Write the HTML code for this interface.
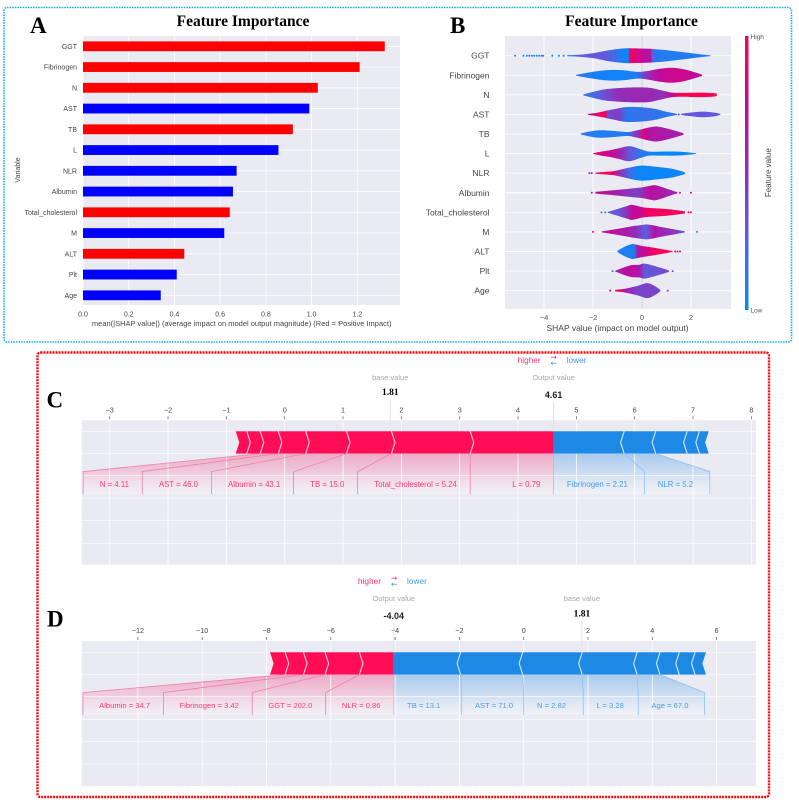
<!DOCTYPE html>
<html lang="en">
<head>
<meta charset="utf-8">
<title>Feature importance and SHAP force plots</title>
<style>
html,body{margin:0;padding:0;background:#fff;}
svg{display:block;filter:blur(0.3px);}
text{font-family:"Liberation Sans",sans-serif;}
.serif{font-family:"Liberation Serif",serif;font-weight:bold;fill:#000;}
</style>
</head>
<body>
<svg id="chart" xmlns="http://www.w3.org/2000/svg" width="799" height="804" viewBox="0 0 799 804">
  <rect x="0" y="0" width="799" height="804" fill="#fff"/>
  <rect x="4" y="7.5" width="787.5" height="334.5" rx="3" fill="none" stroke="#1cb0e6" stroke-width="1.6" stroke-dasharray="1.6 1"/>
  <rect x="37.5" y="352.5" width="731.5" height="444.5" rx="3" fill="none" stroke="#f00a0a" stroke-width="2.4" stroke-dasharray="2 1"/>
  <text class="serif" x="30" y="33" font-size="23">A</text>
  <text class="serif" x="450" y="33" font-size="23">B</text>
  <text class="serif" x="46.500" y="407.500" font-size="23">C</text>
  <text class="serif" x="47" y="626.500" font-size="23">D</text>
  <text class="serif" x="243" y="26" font-size="15.500" text-anchor="middle">Feature Importance</text>
  <text class="serif" x="631.500" y="26" font-size="15.500" text-anchor="middle">Feature Importance</text>
  <g id="panelA"></g>
  <g id="panelB"></g>
  <g id="panelC"></g>
  <g id="panelD"></g>
</svg>
<script>
/* ---------- Panel A data ---------- */
const features = ['GGT','Fibrinogen','N','AST','TB','L','NLR','Albumin','Total_cholesterol','M','ALT','Plt','Age'];
const meanShap = [1.32,1.21,1.027,0.99,0.918,0.855,0.672,0.656,0.642,0.618,0.443,0.41,0.34];
const impactSign = [1,1,1,-1,1,-1,-1,-1,1,-1,1,-1,-1];
const barTicks = [0,0.2,0.4,0.6,0.8,1.0,1.2];

/* ---------- Panel B data: shap position, density, feature value ---------- */
const shapGGT = [-3.05,-2.5,-2,-1.5,-1.2,-0.75,-0.55,-0.5,-0.3,0.1,0.35,0.42,0.6,1,1.5,2,2.5,2.8];
const densGGT = [0.07,0.15,0.33,0.65,0.8,0.97,1,1,0.98,0.95,0.92,0.9,0.85,0.75,0.55,0.35,0.15,0.05];
const featGGT = [0.12,0.28,0.3,0.3,0.2,0.05,0.05,0.97,0.88,0.72,0.7,0.25,0.1,0.1,0.1,0.1,0.1,0.1];
const dotsGGT = [-5.18,-4.84,-4.7,-4.6,-4.5,-4.4,-4.3,-4.2,-4.1,-4.03,-3.66,-3.39,-3.2];
const dotFeatGGT = [0.03,0.03,0.03,0.03,0.03,0.03,0.03,0.03,0.03,0.03,0.03,0.03,0.03];

const shapFib = [-2.7,-2.2,-1.7,-1.2,-0.7,-0.2,0.2,0.7,1.2,1.7,2.2,2.45];
const densFib = [0.05,0.35,0.6,0.72,0.65,0.45,0.55,0.85,1,0.8,0.35,0.08];
const featFib = [0.15,0.08,0.05,0.05,0.05,0.1,0.5,0.75,0.8,0.78,0.75,0.75];
const dotsFib = [];
const dotFeatFib = [];

const shapN = [-2.4,-2,-1.5,-1,-0.3,0.3,0.8,1.2,1.6,2,2.5,3,3.05];
const densN = [0.05,0.4,0.75,0.9,1,0.95,0.6,0.32,0.26,0.28,0.3,0.2,0.03];
const featN = [0.15,0.2,0.35,0.5,0.55,0.55,0.5,0.75,1,1,1,1,1];
const dotsN = [];
const dotFeatN = [];

const shapAST = [-2.2,-1.9,-1.6,-1.5,-1.4,-1,-0.6,0,0.5,1,1.4,1.43,1.6,1.62,2,2.5,3,3.2];
const densAST = [0.08,0.2,0.38,0.45,0.55,0.8,1,0.95,0.75,0.35,0.08,0,0,0.08,0.25,0.38,0.22,0.05];
const featAST = [0.65,0.85,1,1,0.35,0.45,0.12,0.15,0.15,0.12,0.12,0.12,0.3,0.3,0.3,0.3,0.3,0.3];
const dotsAST = [1.5];
const dotFeatAST = [0.3];

const shapTB = [-2.5,-2.1,-1.7,-1.2,-0.6,-0.3,-0.05,0,0.05,0.3,0.6,1,1.5,1.7];
const densTB = [0.07,0.35,0.5,0.42,0.27,0.42,0.6,0.62,0.68,0.88,1,0.75,0.3,0.08];
const featTB = [0.15,0.1,0.07,0.1,0.1,0.45,0.6,1,0.8,0.7,0.65,0.65,0.6,0.6];
const dotsTB = [];
const dotFeatTB = [];

const shapL = [-2,-1.7,-1.3,-0.9,-0.5,0,0.3,0.8,1.5,2.2];
const densL = [0.04,0.25,0.45,0.75,1,0.52,0.27,0.27,0.26,0.05];
const featL = [1,0.85,0.78,0.6,0.3,0.12,0.05,0.03,0.03,0.03];
const dotsL = [];
const dotFeatL = [];

const shapNLR = [-1.9,-1.5,-1.2,-0.9,-0.5,-0.2,0.1,0.7,1.2,1.75];
const densNLR = [0.08,0.18,0.25,0.45,0.75,0.95,1,0.8,0.6,0.12];
const featNLR = [0.8,1,0.9,0.5,0.2,0.05,0.03,0.03,0.03,0.03];
const dotsNLR = [-2.15,-2.05];
const dotFeatNLR = [0.55,0.55];

const shapAlb = [-1.9,-1,-0.3,0,0.3,0.55,1,1.4];
const densAlb = [0.12,0.38,0.62,0.72,0.9,1,0.55,0.1];
const featAlb = [0.75,0.62,0.42,0.5,0.72,0.68,0.6,0.6];
const dotsAlb = [-2.05,1.4,1.55,2.0];
const dotFeatAlb = [0.6,0.65,0.8,0.9];

const shapTC = [-1.4,-1,-0.6,-0.4,0,0.2,0.5,1,1.75];
const densTC = [0.05,0.45,0.85,1,0.7,0.62,0.55,0.45,0.15];
const featTC = [0.3,0.3,0.5,0.75,0.8,0.95,0.95,0.95,0.95];
const dotsTC = [-1.65,-1.5,1.9,2.0];
const dotFeatTC = [0.05,0.1,1,1];

const shapM = [-1.65,-1,-0.3,0.1,0.2,0.5,0.7,1.2,1.75];
const densM = [0.05,0.4,0.8,0.98,1,0.85,0.7,0.4,0.08];
const featM = [0.72,0.7,0.55,0.3,0.3,0.68,0.6,0.5,0.3];
const dotsM = [-2,2.25];
const dotFeatM = [0.95,0.05];

const shapALT = [-1,-0.7,-0.4,-0.3,-0.2,0,0.5,1,1.25];
const densALT = [0.1,0.65,1,0.95,0.9,0.75,0.5,0.2,0.05];
const featALT = [0.1,0.08,0.08,0.1,0.65,0.72,0.95,1,1];
const dotsALT = [1.35,1.45,1.55];
const dotFeatALT = [0.95,0.95,0.9];

const shapPlt = [-1.1,-0.5,-0.1,0.1,0.5,1.1];
const densPlt = [0.05,0.75,0.85,1,0.7,0.1];
const featPlt = [0.6,0.75,0.65,0.3,0.32,0.4];
const dotsPlt = [-1.2,1.25];
const dotFeatPlt = [0.1,0.4];

const shapAge = [-1.1,-0.9,-0.7,-0.2,0.2,0.5,0.75];
const densAge = [0.1,0.17,0.25,0.62,1,0.65,0.1];
const featAge = [1,0.9,0.65,0.4,0.4,0.4,0.4];
const dotsAge = [-1.3,1.05];
const dotFeatAge = [1,0.4];

const violinTicks = [-4,-2,0,2];

/* ---------- Panel C data ---------- */
const cOutput = 4.61;
const cBase = 1.81;
const cPosLabels = ['L = 0.79','Total_cholesterol = 5.24','TB = 15.0','Albumin = 43.1','AST = 46.0','N = 4.11'];
const cPosEffects = [1.43,1.35,0.77,0.70,0.47,0.31,0.23,0.19];
const cNegLabels = ['Fibrinogen = 2.21','NLR = 5.2'];
const cNegEffects = [1.21,0.54,0.54,0.21,0.16];
const cTicks = [-3,-2,-1,0,1,2,3,4,5,6,7,8];

/* ---------- Panel D data ---------- */
const dOutput = -4.04;
const dBase = 1.81;
const dPosLabels = ['NLR = 0.86','GGT = 202.0','Fibrinogen = 3.42','Albumin = 34.7'];
const dPosEffects = [1.07,1.07,0.67,0.57,0.47];
const dNegLabels = ['TB = 13.1','AST = 71.0','N = 2.82','L = 3.28','Age = 67.0'];
const dNegEffects = [2.08,1.93,1.85,1.71,0.71,0.60,0.49,0.34];
const dTicks = [-12,-10,-8,-6,-4,-2,0,2,4,6];

const NS = 'http://www.w3.org/2000/svg';
function mk(parent, tag, attrs, txt){
  const el = document.createElementNS(NS, tag);
  for (const k in attrs) el.setAttribute(k, attrs[k]);
  if (txt !== undefined) el.textContent = txt;
  parent.appendChild(el);
  return el;
}
function fmtTick(v){ return String(v).replace('-', '\u2212'); }

/* ---------- Panel A ---------- */
(function(){
  const g = document.getElementById('panelA');
  const L = 83, R = 400, T = 36, B = 305;
  const x = v => L + v * 228.6;
  const y = i => 46.3 + i * 20.75;
  const bg = mk(g, 'rect', {x:L, y:T, width:R-L, height:B-T, fill:'#eaeaf2'});
  
  
  barTicks.forEach(t => {
    const gl = mk(g, 'line', {x1:x(t), x2:x(t), y1:T, y2:B, stroke:'#fff', 'stroke-width':0.8});
    
    
    const tl = mk(g, 'text', {x:x(t), y:316.5, 'font-size':7, 'text-anchor':'middle', fill:'#444'}, t.toFixed(1));
    
    
  });
  features.forEach((f, i) => {
    const gl = mk(g, 'line', {x1:L, x2:R, y1:y(i), y2:y(i), stroke:'#fff', 'stroke-width':0.8});
    
    
    const bar = mk(g, 'rect', {x:L, y:y(i)-4.9, width:x(meanShap[i])-L, height:9.8, fill:impactSign[i] > 0 ? '#ff0000' : '#0000ff'});
    
    
    const lb = mk(g, 'text', {x:77, y:y(i)+2.5, 'font-size':7, 'text-anchor':'end', fill:'#444'}, f);
    
    
  });
  const xt = mk(g, 'text', {x:241.7, y:326, 'font-size':7.5, 'text-anchor':'middle', fill:'#444'}, 'mean(|SHAP value|) (average impact on model output magnitude) (Red = Positive Impact)');
  
  
  const yt = mk(g, 'text', {x:0, y:0, 'font-size':7, 'text-anchor':'middle', fill:'#444', transform:'translate(20,170) rotate(-90)'}, 'Variable');
  
  
})();

/* ---------- Panel B ---------- */
const violinRows = [
  [shapGGT,densGGT,featGGT,dotsGGT,dotFeatGGT],
  [shapFib,densFib,featFib,dotsFib,dotFeatFib],
  [shapN,densN,featN,dotsN,dotFeatN],
  [shapAST,densAST,featAST,dotsAST,dotFeatAST],
  [shapTB,densTB,featTB,dotsTB,dotFeatTB],
  [shapL,densL,featL,dotsL,dotFeatL],
  [shapNLR,densNLR,featNLR,dotsNLR,dotFeatNLR],
  [shapAlb,densAlb,featAlb,dotsAlb,dotFeatAlb],
  [shapTC,densTC,featTC,dotsTC,dotFeatTC],
  [shapM,densM,featM,dotsM,dotFeatM],
  [shapALT,densALT,featALT,dotsALT,dotFeatALT],
  [shapPlt,densPlt,featPlt,dotsPlt,dotFeatPlt],
  [shapAge,densAge,featAge,dotsAge,dotFeatAge]
];
const cmapStops = [[0,[0,139,251]],[0.25,[88,98,226]],[0.5,[143,48,186]],[0.75,[192,10,154]],[1,[255,0,81]]];
function featColor(v){
  v = Math.max(0, Math.min(1, v));
  for (let i = 1; i < cmapStops.length; i++){
    if (v <= cmapStops[i][0]){
      const a = cmapStops[i-1], b = cmapStops[i];
      const t = (v - a[0]) / (b[0] - a[0]);
      const c = a[1].map((q, k) => Math.round(q + (b[1][k] - q) * t));
      return 'rgb(' + c.join(',') + ')';
    }
  }
  return 'rgb(255,0,81)';
}
function smooth(pts){
  let d = '';
  for (let i = 0; i < pts.length - 1; i++){
    const p0 = pts[Math.max(0, i-1)], p1 = pts[i], p2 = pts[i+1], p3 = pts[Math.min(pts.length-1, i+2)];
    d += ' C' + (p1[0] + (p2[0]-p0[0])/6).toFixed(2) + ' ' + (p1[1] + (p2[1]-p0[1])/6).toFixed(2) + ' ' +
         (p2[0] - (p3[0]-p1[0])/6).toFixed(2) + ' ' + (p2[1] - (p3[1]-p1[1])/6).toFixed(2) + ' ' +
         p2[0].toFixed(2) + ' ' + p2[1].toFixed(2);
  }
  return d;
}
(function(){
  const g = document.getElementById('panelB');
  const L = 505, R = 731, T = 36, B = 309;
  const x = v => 642 + v * 24.5;
  const y = i => 55.7 + i * 19.58;
  const MAXH = 7.5;
  const defs = mk(g, 'defs', {});
  const bg = mk(g, 'rect', {x:L, y:T, width:R-L, height:B-T, fill:'#eaeaf2'});
  
  
  violinTicks.forEach(t => {
    const gl = mk(g, 'line', {x1:x(t), x2:x(t), y1:T, y2:B, stroke:t === 0 ? '#dcdce2' : '#fff', 'stroke-width':t === 0 ? 1.4 : 0.9});
    
    
    const tl = mk(g, 'text', {x:x(t), y:320, 'font-size':7.5, 'text-anchor':'middle', fill:'#555'}, fmtTick(t));
    
    
  });
  features.forEach((f, i) => {
    const gl = mk(g, 'line', {x1:L, x2:R, y1:y(i), y2:y(i), stroke:'#fff', 'stroke-width':0.9});
    
    
    const lb = mk(g, 'text', {x:489.5, y:y(i)+3, 'font-size':8.5, 'text-anchor':'end', fill:'#444'}, f);
    
    
    const row = violinRows[i];
    const sh = row[0], de = row[1], fe = row[2], dots = row[3], dotF = row[4];
    const x0 = x(sh[0]), x1 = x(sh[sh.length-1]);
    const grad = mk(defs, 'linearGradient', {id:'vg'+i, gradientUnits:'userSpaceOnUse', x1:x0, x2:x1, y1:0, y2:0});
    sh.forEach((s, k) => {
      mk(grad, 'stop', {offset:((x(s)-x0)/(x1-x0)).toFixed(4), 'stop-color':featColor(fe[k])});
    });
    const top = sh.map((s, k) => [x(s), y(i) - de[k]*MAXH]);
    const bot = sh.map((s, k) => [x(s), y(i) + de[k]*MAXH]).reverse();
    const d = 'M' + top[0][0].toFixed(2) + ' ' + top[0][1].toFixed(2) + smooth(top) +
              ' L' + bot[0][0].toFixed(2) + ' ' + bot[0][1].toFixed(2) + smooth(bot) + ' Z';
    const v = mk(g, 'path', {d:d, fill:'url(#vg'+i+')'});
    
    
    dots.forEach((s, k) => {
      const c = mk(g, 'circle', {cx:x(s), cy:y(i), r:1, fill:featColor(dotF[k])});
      
      
    });
  });
  const cg = mk(defs, 'linearGradient', {id:'cbar', x1:0, x2:0, y1:1, y2:0});
  cmapStops.forEach(s => { mk(cg, 'stop', {offset:s[0], 'stop-color':featColor(s[0])}); });
  const cb = mk(g, 'rect', {x:745, y:36, width:3.5, height:274, fill:'url(#cbar)'});
  
  
  const hi = mk(g, 'text', {x:750.5, y:39, 'font-size':6.5, fill:'#555'}, 'High');
  
  
  const lo = mk(g, 'text', {x:750.5, y:312.5, 'font-size':6.5, fill:'#555'}, 'Low');
  
  
  const ft = mk(g, 'text', {x:0, y:0, 'font-size':8, 'text-anchor':'middle', fill:'#444', transform:'translate(771,172.7) rotate(-90)'}, 'Feature value');
  
  
  const xt = mk(g, 'text', {x:617.5, y:331, 'font-size':8.5, 'text-anchor':'middle', fill:'#444'}, 'SHAP value (impact on model output)');
  
  
})();

/* ---------- Force plots ---------- */
function drawForce(g, cfg){
  const x = v => cfg.zero + v * cfg.scale;
  const PL = 81.7, PR = 756, T = cfg.top, Bt = cfg.bottom;
  const barT = cfg.barTop, barB = cfg.barTop + 22.3, barM = (barT + barB) / 2;
  const slantY = barB + 18, boxB = barB + 40.5, D = 3.6;
  const bg = mk(g, 'rect', {x:PL, y:T, width:PR-PL, height:Bt-T, fill:'#eaeaf2'});
  
  
  const defs = mk(g, 'defs', {});
  const rg = mk(defs, 'linearGradient', {id:cfg.id+'r', gradientUnits:'userSpaceOnUse', x1:0, x2:0, y1:barB, y2:boxB});
  [[0,'#edabc5'],[0.5,'#efcddd'],[0.7,'#f0e0ea'],[1,'#f2f1f6']].forEach(s => { mk(rg, 'stop', {offset:s[0], 'stop-color':s[1]}); });
  const bgr = mk(defs, 'linearGradient', {id:cfg.id+'b', gradientUnits:'userSpaceOnUse', x1:0, x2:0, y1:barB, y2:boxB});
  [[0,'#a9caed'],[0.5,'#cddef2'],[0.7,'#e0e8f4'],[1,'#f1f2f7']].forEach(s => { mk(bgr, 'stop', {offset:s[0], 'stop-color':s[1]}); });
  const shade = mk(g, 'g', {});
  
  
  const grid = mk(g, 'g', {});
  
  
  const bars = mk(g, 'g', {});
  
  
  const lines = mk(g, 'g', {});
  
  
  const labels = mk(g, 'g', {});
  
  

  cfg.rows.forEach(yy => {
    const h = mk(grid, 'line', {x1:PL, x2:PR, y1:yy, y2:yy, stroke:'#fff', 'stroke-width':0.8, 'stroke-opacity':0.85});
    
    
  });
  cfg.ticks.forEach(t => {
    const v = mk(grid, 'line', {x1:x(t), x2:x(t), y1:T, y2:Bt, stroke:'#fff', 'stroke-width':0.8});
    
    
    const m = mk(g, 'line', {x1:x(t), x2:x(t), y1:T-4, y2:T-1, stroke:'#555', 'stroke-width':0.7});
    
    
    const l = mk(g, 'text', {x:x(t), y:T-8, 'font-size':7.2, 'text-anchor':'middle', fill:'#444'}, fmtTick(t));
    
    
  });

  /* red: contributions walking left from the output value */
  let cum = cfg.output, boxEdge = x(cfg.output);
  cfg.posEffects.forEach((eff, i) => {
    const vL = cum - eff, xL = x(vL), xR = x(cum), dR = i === 0 ? 0 : D;
    const seg = mk(bars, 'polygon', {points:[[xR,barT],[xR+dR,barM],[xR,barB],[xL,barB],[xL+D,barM],[xL,barT]].join(' '), fill:'#ff0d57'});
    
    
    if (i > 0){
      const ch = mk(bars, 'polyline', {points:[[xR,barT],[xR+dR,barM],[xR,barB]].join(' '), fill:'none', stroke:'#ffd0de', 'stroke-width':1.1});
      
      
    }
    if (i < cfg.posLabels.length){
      const t = mk(labels, 'text', {x:boxEdge-13.3, y:cfg.labelY, 'font-size':cfg.labelSize, 'text-anchor':'end', fill:'#ff0d57', 'fill-opacity':0.8}, cfg.posLabels[i]);
      
      
      const w = t.getComputedTextLength();
      const left = (boxEdge - xL >= w + 20) ? xL : boxEdge - w - cfg.labelPad;
      const poly = mk(shade, 'polygon', {points:[[xR,barB],[xL,barB],[left,slantY],[left,boxB],[boxEdge,boxB],[boxEdge,slantY]].join(' '), fill:'url(#'+cfg.id+'r)'});
      
      
      const c = mk(lines, 'polyline', {points:[[xL,barB],[left,slantY],[left,boxB]].join(' '), fill:'none', stroke:'#f07ea6', 'stroke-width':0.8});
      
      
      boxEdge = left;
    }
    cum = vL;
  });

  /* blue: contributions walking right from the output value */
  cum = cfg.output; boxEdge = x(cfg.output);
  cfg.negEffects.forEach((eff, i) => {
    const vR = cum + eff, xL = x(cum), xR = x(vR), dL = i === 0 ? 0 : D;
    const seg = mk(bars, 'polygon', {points:[[xL,barT],[xL-dL,barM],[xL,barB],[xR,barB],[xR-D,barM],[xR,barT]].join(' '), fill:'#1e88e5'});
    
    
    if (i > 0){
      const ch = mk(bars, 'polyline', {points:[[xL,barT],[xL-dL,barM],[xL,barB]].join(' '), fill:'none', stroke:'#d3e7fa', 'stroke-width':1.1});
      
      
    }
    if (i < cfg.negLabels.length){
      const t = mk(labels, 'text', {x:boxEdge+13.3, y:cfg.labelY, 'font-size':cfg.labelSize, 'text-anchor':'start', fill:'#1e88e5', 'fill-opacity':0.8}, cfg.negLabels[i]);
      
      
      const w = t.getComputedTextLength();
      const right = (xR + 1 - boxEdge >= w + 20) ? xR + 1 : boxEdge + w + cfg.labelPad;
      const poly = mk(shade, 'polygon', {points:[[xL,barB],[xR,barB],[right,slantY],[right,boxB],[boxEdge,boxB],[boxEdge,slantY]].join(' '), fill:'url(#'+cfg.id+'b)'});
      
      
      const c = mk(lines, 'polyline', {points:[[xR,barB],[right,slantY],[right,boxB]].join(' '), fill:'none', stroke:'#90c1ee', 'stroke-width':0.8});
      
      
      boxEdge = right;
    }
    cum = vR;
  });

  const xo = x(cfg.output), xb = x(cfg.base);
  const ol = mk(lines, 'line', {x1:xo, x2:xo, y1:barB, y2:boxB, stroke:'#f0a0bf', 'stroke-width':0.8});
  
  
  const om = mk(g, 'line', {x1:xo, x2:xo, y1:cfg.outTextY+4, y2:barT, stroke:'#dfdfe4', 'stroke-width':1});
  
  
  const bm = mk(g, 'line', {x1:xb, x2:xb, y1:cfg.baseTextY+4, y2:T+6, stroke:'#e2e2e6', 'stroke-width':1});
  
  

  const bl = mk(g, 'text', {x:xb, y:cfg.captionY, 'font-size':7.5, 'text-anchor':'middle', fill:'#a8a8a8'}, 'base value');
  
  
  const bv = mk(g, 'text', {x:xb, y:cfg.baseTextY, 'font-size':9.5, 'text-anchor':'middle', class:'serif'}, cfg.base.toFixed(2));
  
  
  const oc = mk(g, 'text', {x:xo, y:cfg.captionY, 'font-size':7.5, 'text-anchor':'middle', fill:'#a8a8a8'}, 'Output value');
  
  
  const ov = mk(g, 'text', {x:xo, y:cfg.outTextY, 'font-size':9, 'font-weight':'bold', 'text-anchor':'middle', fill:'#222'}, cfg.output.toFixed(2));
  
  

  const hx = cfg.legendX;
  const hg = mk(g, 'text', {x:hx-13, y:cfg.legendY, 'font-size':8.3, 'text-anchor':'end', fill:'#ff0d57', 'fill-opacity':0.85}, 'higher');
  
  
  const lw = mk(g, 'text', {x:hx+13, y:cfg.legendY, 'font-size':8.3, 'text-anchor':'start', fill:'#1e88e5', 'fill-opacity':0.85}, 'lower');
  
  
  const ar = mk(g, 'text', {x:hx, y:cfg.legendY-3.5, 'font-size':7.5, 'text-anchor':'middle', fill:'#ff0d57', style:'font-family:"DejaVu Sans",sans-serif'}, '\u2192');
  
  
  const al = mk(g, 'text', {x:hx, y:cfg.legendY+2.5, 'font-size':7.5, 'text-anchor':'middle', fill:'#1e88e5', style:'font-family:"DejaVu Sans",sans-serif'}, '\u2190');
  
  
}

drawForce(document.getElementById('panelC'), {
  id:'fc', zero:284.7, scale:58.33, top:420.3, bottom:564.7, barTop:431.3,
  rows:[431.3,453.5,475.7,498,520.3,543.3], labelY:487, labelSize:7.8, labelPad:30, ticks:cTicks,
  output:cOutput, base:cBase, posEffects:cPosEffects, posLabels:cPosLabels, negEffects:cNegEffects, negLabels:cNegLabels,
  captionY:380, baseTextY:395, outTextY:398, legendX:553.7, legendY:363
});
drawForce(document.getElementById('panelD'), {
  id:'fd', zero:523.7, scale:32.15, top:641, bottom:786, barTop:652.3,
  rows:[652.3,674.5,696.7,719.3,741.3,764], labelY:708, labelSize:7.6, labelPad:29.5, ticks:dTicks,
  output:dOutput, base:dBase, posEffects:dPosEffects, posLabels:dPosLabels, negEffects:dNegEffects, negLabels:dNegLabels,
  captionY:601, baseTextY:616.5, outTextY:619, legendX:394, legendY:584
});
</script>
</body>
</html>
